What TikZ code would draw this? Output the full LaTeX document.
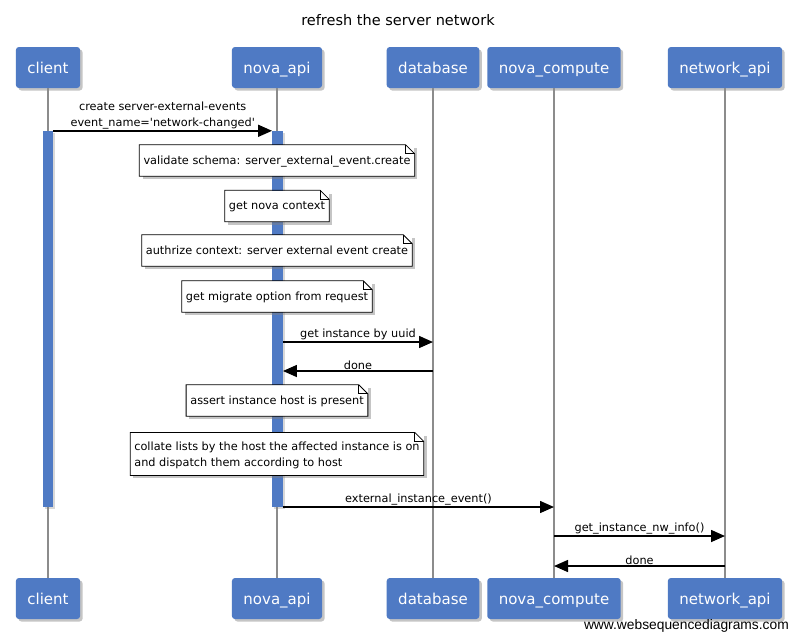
\documentclass[tikz,border=0pt]{standalone}
\usepackage{fontspec}
\setmainfont{DejaVu Sans}
\newfontfamily\wmfont{Liberation Sans}
\usetikzlibrary{arrows.meta,shadows,calc}
\definecolor{wsdblue}{RGB}{79,122,196}
\definecolor{lifegray}{RGB}{140,140,140}
\newcommand\wsdnote[3]{%
  \node[notebox] (#1) at (277,#2) {#3};
  \draw[noteline] (#1.south west) -- (#1.north west) -- ([xshift=-9pt]#1.north east) -- ([yshift=-9pt]#1.north east) -- (#1.south east) -- cycle;
  \draw[noteline] ([xshift=-9pt]#1.north east) -- ([xshift=-9pt,yshift=-9pt]#1.north east) -- ([yshift=-9pt]#1.north east);
}
\begin{document}
\begin{tikzpicture}[x=1pt,y=-1pt,
  actor/.style={fill=wsdblue, rounded corners=3pt, text=white, font=\fontsize{15}{18}\selectfont,
    inner xsep=11.5pt, inner ysep=0pt, minimum height=41pt, text height=13pt, text depth=1pt,
    drop shadow={shadow xshift=2.5pt, shadow yshift=-2.5pt, opacity=0.45}},
  lifeline/.style={draw=lifegray, line width=1.8pt},
  actbar/.style={fill=wsdblue, minimum width=10.5pt, inner sep=0pt,
    drop shadow={shadow xshift=2pt, shadow yshift=-2pt, opacity=0.3}},
  notebox/.style={fill=white, font=\fontsize{11.3}{16}\selectfont, inner xsep=4pt, inner ysep=9pt,
    minimum height=31pt, align=left, text depth=0pt,
    drop shadow={shadow xshift=3pt, shadow yshift=-3pt, opacity=0.45}},
  noteline/.style={draw=black, line width=0.8pt, line join=miter},
  msg/.style={draw=black, line width=1.5pt, -{Triangle[length=14pt,width=12pt]}},
  mlabel/.style={font=\fontsize{11.3}{16}\selectfont, inner sep=1pt, above, align=center}
]
\useasboundingbox (0,0) rectangle (797,641);
\fill[white] (0,0) rectangle (797,641);

\node[font=\fontsize{14.5}{17}\selectfont] (title) at (398,20) {refresh the server network};

% actors top
\node[actor] (ct) at (48,67.5) {client};
\node[actor] (at) at (277,67.5) {nova\_api};
\node[actor] (dt) at (433,67.5) {database};
\node[actor] (nt) at (554,67.5) {nova\_compute};
\node[actor] (wt) at (725,67.5) {network\_api};
% actors bottom
\node[actor] (cb) at (48,598.5) {client};
\node[actor] (ab) at (277,598.5) {nova\_api};
\node[actor] (db) at (433,598.5) {database};
\node[actor] (nb) at (554,598.5) {nova\_compute};
\node[actor] (wb) at (725,598.5) {network\_api};

% lifelines
\draw[lifeline] (ct) -- (cb);
\draw[lifeline] (at) -- (ab);
\draw[lifeline] (dt) -- (db);
\draw[lifeline] (nt) -- (nb);
\draw[lifeline] (wt) -- (wb);

% activation bars
\node[actbar, minimum height=376pt] (actc) at (48,319) {};
\node[actbar, minimum height=376pt] (acta) at (277.5,319) {};

% message levels
\coordinate (m2) at (0,342);
\coordinate (m3) at (0,371);
\coordinate (m4) at (0,507);
\coordinate (m5) at (0,536);
\coordinate (m6) at (0,566);

\draw[msg] (actc.north east) -- (acta.north west)
  node[mlabel, midway] {create server-external-events\\event\_name=\textquotesingle network-changed\textquotesingle};

\wsdnote{n1}{160.5}{validate schema: server\_external\_event.create}
\wsdnote{n2}{206}{get nova context}
\wsdnote{n3}{250.5}{authrize context: server external event create}
\wsdnote{n4}{296.5}{get migrate option from request}

\draw[msg] (acta.east |- m2) -- (dt.south |- m2) node[mlabel, midway] {get instance by uuid};
\draw[msg] (dt.south |- m3) -- (acta.east |- m3) node[mlabel, midway] {done};

\wsdnote{n5}{400.5}{assert instance host is present}
\wsdnote{n6}{454}{collate lists by the host the affected instance is on\\and dispatch them according to host}

\draw[msg] (acta.east |- m4) -- (nt.south |- m4) node[mlabel, midway] {external\_instance\_event()};
\draw[msg] (nt.south |- m5) -- (wt.south |- m5) node[mlabel, midway] {get\_instance\_nw\_info()};
\draw[msg] (wt.south |- m6) -- (nt.south |- m6) node[mlabel, midway] {done};

\node[font=\wmfont\fontsize{13.8}{16}\selectfont, anchor=east, inner sep=0pt] (wm) at (789,626) {www.websequencediagrams.com};
\end{tikzpicture}
\end{document}
